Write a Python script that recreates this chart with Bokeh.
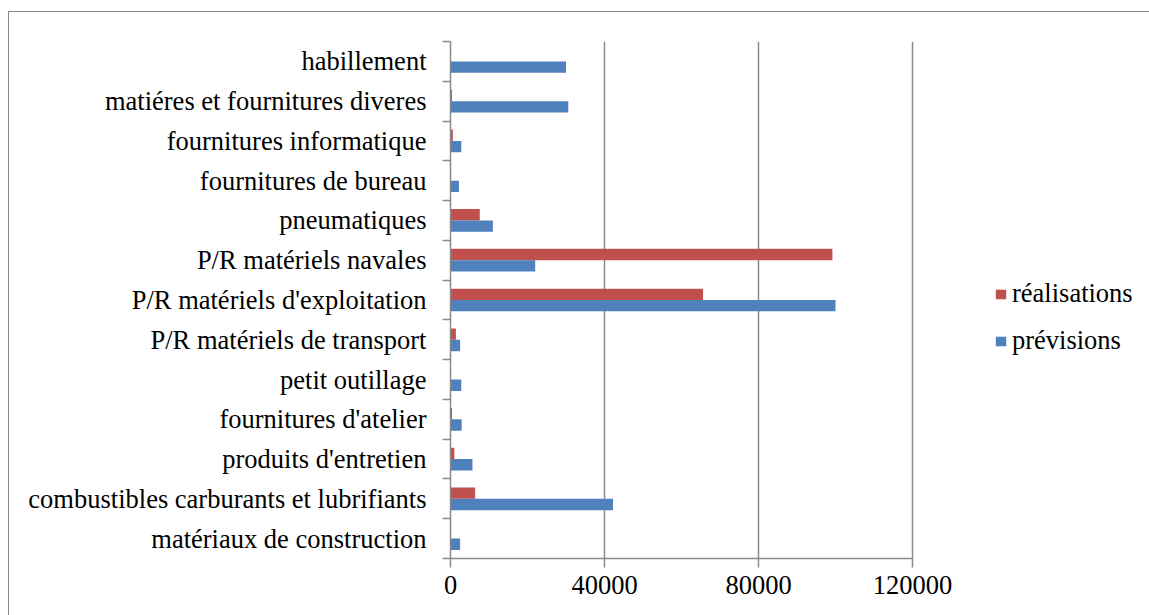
from bokeh.plotting import figure
from bokeh.models import (Range1d, FixedTicker, ColumnDataSource, Legend, LegendItem,
                          InlineStyleSheet)
from bokeh.transform import dodge
from bokeh.embed import file_html
from bokeh.resources import INLINE

# Categories, listed from the bottom of the chart to the top
categories = [
    "matériaux de construction",
    "combustibles carburants et lubrifiants",
    "produits d'entretien",
    "fournitures d'atelier",
    "petit outillage",
    "P/R matériels de transport",
    "P/R matériels d'exploitation",
    "P/R matériels navales",
    "pneumatiques",
    "fournitures de bureau",
    "fournitures informatique",
    "matiéres et fournitures diveres",
    "habillement",
]
previsions = [2500, 42200, 5700, 2900, 2800, 2500, 100000, 22000, 11000, 2200, 2800, 30600, 30000]
realisations = [0, 6400, 1000, 400, 0, 1400, 65600, 99200, 7600, 0, 600, 400, 0]
x_ticks = [0, 40000, 80000, 120000]

RED = "#C0504D"
BLUE = "#4F81BD"
GREY = "#8a8a8a"
FONT = "Liberation Serif"
FSIZE = "26.5px"

W, H = 1149, 615
LEFT, TOP, BOTTOM = 450, 41, 57
AXIS_PX = 462                      # pixel length of the 0..120000 value axis
X_MAX = x_ticks[-1]
# the plot frame also hosts the legend on the right, so the range runs past the axis end
x_end = X_MAX * (W - LEFT) / AXIS_PX

n = len(categories)
centers = [i + 0.5 for i in range(n)]
src = ColumnDataSource(dict(pos=centers, prev=previsions, real=realisations))

p = figure(width=W, height=H, output_backend="svg", toolbar_location=None,
           x_range=Range1d(0, x_end), y_range=Range1d(0, n),
           min_border_left=LEFT, min_border_right=0, min_border_top=TOP, min_border_bottom=BOTTOM)
p.outline_line_color = None
p.background_fill_color = "white"
p.border_fill_color = "white"

# outer chart border, drawn over the canvas with CSS
p.stylesheets = [InlineStyleSheet(css="""
:host { position: relative; }
:host::after {
  content: "";
  position: absolute;
  left: 8px; top: 11px; width: 1200px; height: 700px;
  border-left: 1.5px solid #8a8a8a;
  border-top: 1.5px solid #8a8a8a;
  pointer-events: none;
  z-index: 10;
}
""")]

bar_h = 0.286
r_real = p.hbar(y=dodge("pos", bar_h / 2, range=p.y_range), right="real", left=0, height=bar_h,
                source=src, fill_color=RED, line_color=None)
r_prev = p.hbar(y=dodge("pos", -bar_h / 2, range=p.y_range), right="prev", left=0, height=bar_h,
                source=src, fill_color=BLUE, line_color=None)

# value axis
xa = p.xaxis[0]
xa.bounds = (0, X_MAX)
xa.ticker = FixedTicker(ticks=x_ticks)
xa.formatter.use_scientific = False
xa.axis_line_color = GREY
xa.axis_line_width = 1.5
xa.major_tick_line_color = GREY
xa.major_tick_line_width = 1.5
xa.major_tick_out = 9
xa.major_tick_in = 0
xa.minor_tick_line_color = None
xa.major_label_text_font = FONT
xa.major_label_text_font_size = FSIZE
xa.major_label_text_color = "black"
xa.major_label_standoff = 8

# category axis: labels at group centres, tick marks at group boundaries
ya = p.yaxis[0]
ya.ticker = FixedTicker(ticks=centers, minor_ticks=list(range(n + 1)))
ya.major_label_overrides = {c: name for c, name in zip(centers, categories)}
ya.axis_line_color = GREY
ya.axis_line_width = 1.5
ya.major_tick_line_color = None
ya.major_tick_out = 0
ya.major_tick_in = 0
ya.minor_tick_line_color = GREY
ya.minor_tick_line_width = 1.5
ya.minor_tick_out = 8
ya.minor_tick_in = 0
ya.major_label_text_font = FONT
ya.major_label_text_font_size = FSIZE
ya.major_label_text_color = "black"
ya.major_label_standoff = 16

p.ygrid.grid_line_color = None
p.xgrid.ticker = FixedTicker(ticks=x_ticks[1:])
p.xgrid.grid_line_color = GREY
p.xgrid.grid_line_width = 1.5

legend = Legend(items=[LegendItem(label="réalisations", renderers=[r_real]),
                       LegendItem(label="prévisions", renderers=[r_prev])],
                location=(544, 202), orientation="vertical")
legend.border_line_color = None
legend.background_fill_alpha = 0
legend.padding = 0
legend.margin = 0
legend.spacing = 16
legend.glyph_width = 13
legend.glyph_height = 12
legend.label_standoff = 5
legend.label_text_font = FONT
legend.label_text_font_size = FSIZE
legend.label_text_color = "black"
p.add_layout(legend, "center")

open("out.html", "w").write(file_html(p, INLINE))
